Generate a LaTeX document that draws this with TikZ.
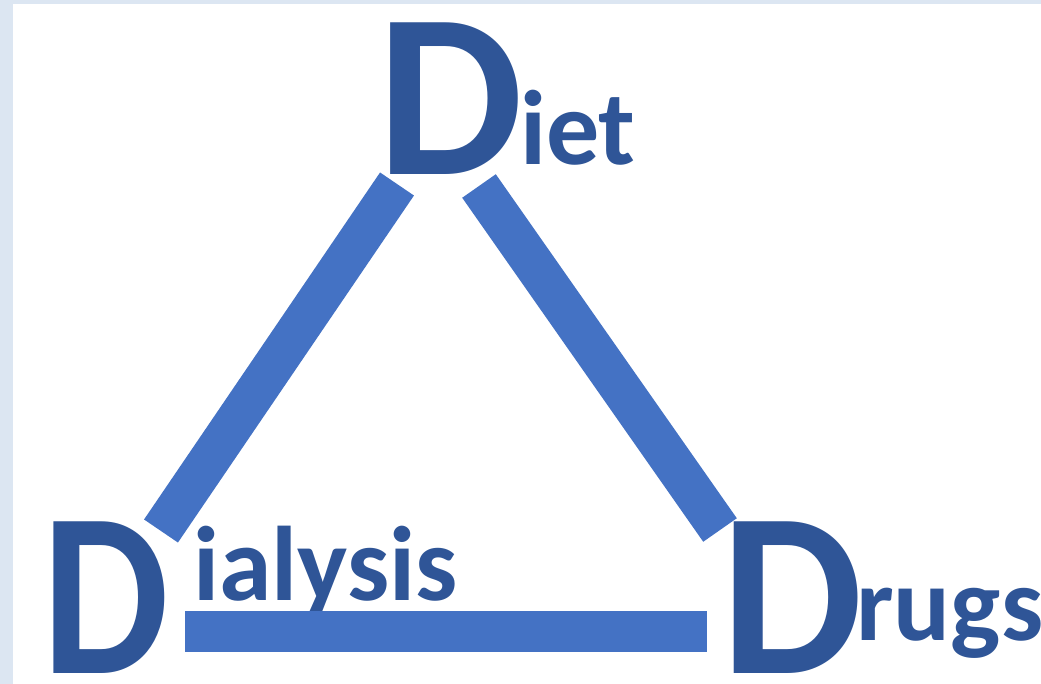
\documentclass[tikz,border=0pt]{standalone}
\usepackage{fontspec}
\setmainfont{Carlito}
\usepackage{xcolor}
\usepackage{tikz}
\usetikzlibrary{positioning}

\definecolor{frameblue}{HTML}{DCE6F2}
\definecolor{letterblue}{HTML}{2F5597}
\definecolor{barblue}{HTML}{4472C4}

\newcommand{\bigDee}[1]{\scalebox{#1}[1]{D}}

\tikzset{
  bigD/.style={anchor=base west, inner sep=0pt, text=letterblue,
    font=\fontsize{234}{234}\selectfont\bfseries},
  rest/.style={anchor=base west, inner sep=0pt, text=letterblue,
    font=\fontsize{106}{106}\selectfont\bfseries},
  bar/.style={line width=41pt, barblue, line cap=butt}
}

\begin{document}
\begin{tikzpicture}[x=1pt,y=-1pt]
\useasboundingbox (0,0) rectangle (1041,684);
\fill[frameblue] (0,0) rectangle (1041,684);
\fill[white] (13,4) rectangle (1041,684);

% Diet
\node[bigD] (dietD) at (377,175) {\bigDee{0.99}};
\node[rest] (diet) at (520,165) {iet};

% Dialysis
\node[bigD] (dialD) at (42,673) {\bigDee{0.86}};
\node[rest] (dial) at (193,600) {ialysis};

% Drugs
\node[bigD] (drugD) at (721,673) {\bigDee{0.96}};
\node[rest] (drug) at (856,640) {rugs};

% bar ends
\coordinate (dietL) at (397,184);
\coordinate (dietR) at (479,186);
\coordinate (dialT) at (161,531);
\coordinate (dialR) at (185,631);
\coordinate (drugT) at (720,530);
\coordinate (drugL) at (707,631);

\draw[bar] (dietL) -- (dialT);
\draw[bar] (dietR) -- (drugT);
\draw[bar] (dialR) -- (drugL);
\end{tikzpicture}
\end{document}
